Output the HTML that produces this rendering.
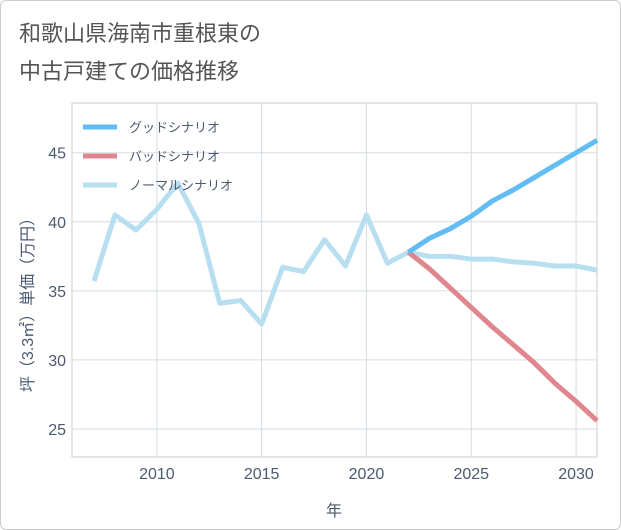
<!DOCTYPE html>
<html><head><meta charset="utf-8"><style>
body{margin:0;background:#fff;font-family:"Liberation Sans","Noto Sans CJK JP",sans-serif}
#wrap{position:relative;width:619px;height:528px;border:1px solid #ccc;border-radius:6px;overflow:hidden}
</style></head><body>
<div id="wrap">
<svg id="chart" width="619" height="528"></svg>
</div>
<script>
const years=[2007,2008,2009,2010,2011,2012,2013,2014,2015,2016,2017,2018,2019,2020,2021,2022,2023,2024,2025,2026,2027,2028,2029,2030,2031];
const normalVals=[35.7,40.5,39.4,40.9,42.8,39.9,34.1,34.3,32.6,36.7,36.4,38.7,36.8,40.5,37.0,37.8,37.5,37.5,37.3,37.3,37.1,37.0,36.8,36.8,36.5];
const futureYears=[2022,2023,2024,2025,2026,2027,2028,2029,2030,2031];
const goodVals=[37.8,38.8,39.5,40.4,41.5,42.3,43.2,44.1,45.0,45.9];
const badVals=[37.8,36.6,35.2,33.8,32.4,31.1,29.8,28.3,27.0,25.6];
const xTicks=[2010,2015,2020,2025,2030];
const yTicks=[25,30,35,40,45];
const NS="http://www.w3.org/2000/svg";
const svg=document.getElementById('chart');
const L=71,R=596,T=102,B=456;
const x=v=>L+(v-2005.95)/(2031-2005.95)*(R-L);
const y=v=>B-(v-22.97)/(48.6-22.97)*(B-T);
function mk(t,a,p){const e=document.createElementNS(NS,t);for(const k in a)e.setAttribute(k,a[k]);(p||svg).appendChild(e);return e;}
function txt(s,a){const e=mk('text',a);e.textContent=s;return e;}
const t1=txt('和歌山県海南市重根東の',{x:18,y:40,'font-size':22,fill:'#555'});

const t2=txt('中古戸建ての価格推移',{x:18,y:78,'font-size':22,fill:'#555'});

const bg=mk('rect',{x:L,y:T,width:R-L,height:B-T,fill:'none',stroke:'#ccc'});

xTicks.forEach(v=>{const g=mk('line',{x1:x(v),x2:x(v),y1:T,y2:B,stroke:'#d5dde5'});

const l=txt(v,{x:x(v),y:B+22,'font-size':16,fill:'#4a5a70','text-anchor':'middle'});
});
yTicks.forEach(v=>{const g=mk('line',{x1:L,x2:R,y1:y(v),y2:y(v),stroke:'#d5dde5'});

const l=txt(v,{x:L-6,y:y(v)+6,'font-size':16,fill:'#4a5a70','text-anchor':'end'});
});
const xt=txt('年',{x:333,y:515,'font-size':16,fill:'#4a5a70','text-anchor':'middle'});

const yt=txt('坪（3.3㎡）単価（万円）',{x:0,y:0,'font-size':16,fill:'#4a5a70','text-anchor':'middle',transform:'translate(32,300) rotate(-90)'});

function line(xs,vs,color,name){const d=xs.map((v,i)=>(i?'L':'M')+x(v)+','+y(vs[i])).join('');
const p=mk('path',{d:d,fill:'none',stroke:color,'stroke-width':5,'stroke-linejoin':'round'});
}
line(years,normalVals,'#b8dff0','normal-scenario-line');
line(futureYears,badVals,'#e0868f','bad-scenario-line');
line(futureYears,goodVals,'#62bdf4','good-scenario-line');
const leg=[['グッドシナリオ','#62bdf4'],['バッドシナリオ','#e0868f'],['ノーマルシナリオ','#b8dff0']];
leg.forEach((e,i)=>{const yy=126+i*29;
const s=mk('line',{x1:82,x2:116,y1:yy,y2:yy,stroke:e[1],'stroke-width':5});

const l=txt(e[0],{x:128,y:yy+5,'font-size':13,fill:'#4a5a70'});
});
</script>
</body></html>
